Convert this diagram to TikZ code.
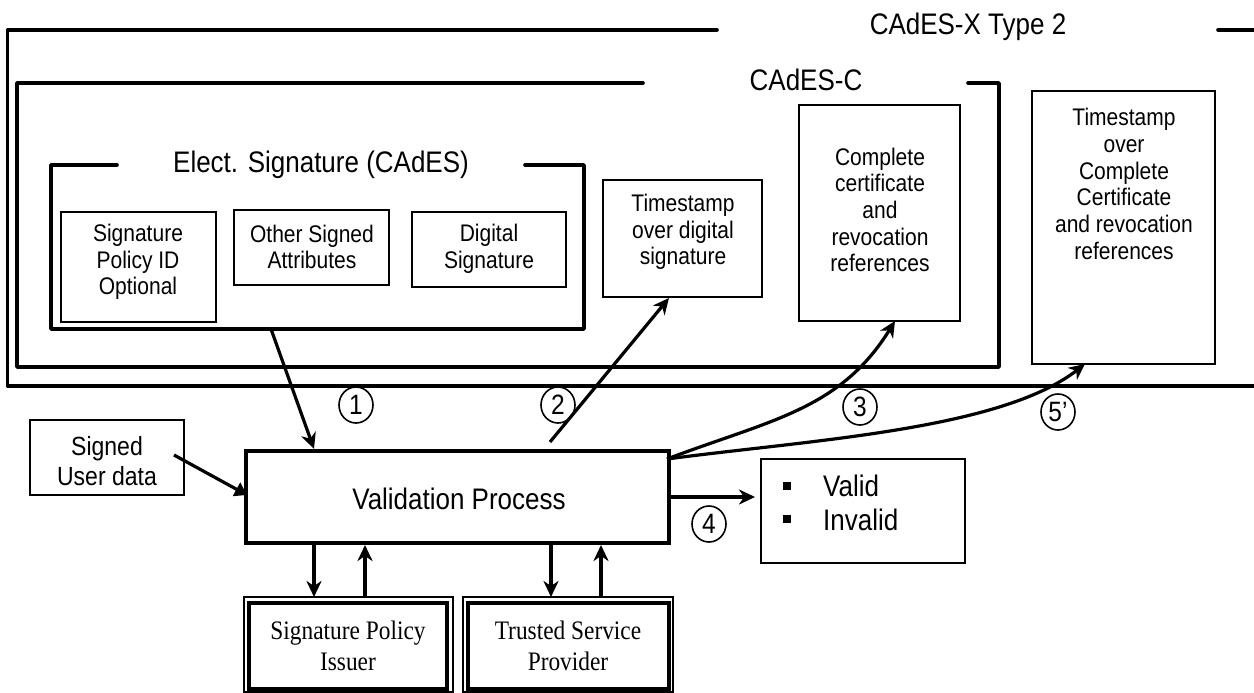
\documentclass[tikz,border=0pt]{standalone}
\usepackage{fontspec}
\setmainfont[FakeStretch=0.875]{Liberation Sans}
\newfontfamily\serifface[FakeStretch=0.875]{Liberation Serif}
\usetikzlibrary{arrows.meta,shapes.geometric}
\tikzset{
  thinbox/.style={draw=black,line width=2pt,inner sep=0pt,outer sep=0pt},
  frameline/.style={draw=black,line width=3.6pt,line cap=round,line join=round},
  mainbox/.style={draw=black,line width=3.8pt,inner sep=0pt,outer sep=0pt},
  issueroutline/.style={draw=black,line width=2.6pt,inner sep=0pt,outer sep=0pt},
  issuerinline/.style={draw=black,line width=3.2pt,inner sep=0pt,outer sep=0pt},
  txt/.style={align=center,inner sep=0pt,font=\fontsize{24}{26.7}\selectfont},
  signedtxt/.style={align=center,inner sep=0pt,font=\fontsize{26.3}{30}\selectfont},
  bigtxt/.style={inner sep=0pt,anchor=base,yshift=-1.5pt,font=\fontsize{29.7}{33}\selectfont},
  issuertxt/.style={align=center,inner sep=0pt,font=\serifface\fontsize{26.7}{31}\selectfont},
  numcircle/.style={draw=black,line width=1.6pt,ellipse,inner sep=0pt,minimum width=34pt,minimum height=36pt,font=\fontsize{28}{28}\selectfont},
  conn/.style={draw=black,line width=3.2pt,-{Stealth[length=16pt,width=15pt,inset=5pt]}},
  solidconn/.style={draw=black,line width=3.2pt,-{Triangle[length=12pt,width=15pt]}},
  bullet/.style={fill=black,inner sep=0pt,minimum width=8.5pt,minimum height=8pt}
}
\newcommand{\bx}[6][thinbox]{%
  \node[#1,minimum width=#4pt-#2pt+0pt,minimum height=#5pt-#3pt+0pt] (#6) at ({(#2+#4)/2},{(#3+#5)/2}) {};}
\begin{document}
\begin{tikzpicture}[x=1pt,y=-1pt]
\useasboundingbox (0,0) rectangle (1254,693);
% open frames
\coordinate (xa) at (717,30); \coordinate (xb) at (1218,30);
\draw[frameline] (xa) -- (7.5,30) -- (7.5,386) -- (1270,386);
\draw[frameline] (xb) -- (1270,30);
\coordinate (ca) at (643,83); \coordinate (cb) at (968,83);
\draw[frameline] (ca) -- (17,83) -- (17,367) -- (999,367) -- (999,83) -- (cb);
\coordinate (ea) at (117,165); \coordinate (eb) at (525,165);
\draw[frameline] (ea) -- (51,165) -- (51,329) -- (584,329) -- (584,165) -- (eb);
\node[bigtxt] (xlabel) at (968,33) {CAdES-X Type 2};
\node[bigtxt] (clabel) at (806,89) {CAdES-C};
\node[bigtxt] (elabel) at (321,171) {Elect. Signature (CAdES)};
% boxes
\bx{61}{212}{216}{322}{spid}
\node[txt] (spidt) at (138,262) {Signature\\Policy ID\\Optional};
\bx{234}{210}{389}{285}{osa}
\node[txt] (osat) at (312,247) {Other Signed\\Attributes};
\bx{412}{212}{566}{287}{dsig}
\node[txt] (dsigt) at (489,249) {Digital\\Signature};
\bx{603}{180}{762}{297}{ts}
\node[txt] (tst) at (683,232) {Timestamp\\over digital\\signature};
\bx{799}{105}{960}{321}{ccr}
\node[txt] (ccrt) at (880,210) {Complete\\certificate\\and\\revocation\\references};
\bx{1032}{91}{1215}{364}{tsc}
\node[txt] (tsct) at (1124,184) {Timestamp\\over\\Complete\\Certificate\\and revocation\\references};
\bx{30}{420}{184}{495}{sud}
\node[signedtxt] (sudt) at (107,461) {Signed\\User data};
\bx[mainbox]{246}{451}{669}{543}{vp}
\node[bigtxt] (vpt) at (459,508) {Validation Process};
\bx{761}{459}{965}{563}{res}
\node[bullet] (b1) at (787,486) {};
\node[bullet] (b2) at (787,519) {};
\node[bigtxt,anchor=base west] (v1) at (823,495) {Valid};
\node[bigtxt,anchor=base west] (v2) at (823,529) {Invalid};
\bx[issueroutline]{244}{597}{453}{692}{spo}
\bx[issuerinline]{249}{603}{447}{689}{spi}
\node[issuertxt] (spit) at (348,646) {Signature Policy\\Issuer};
\bx[issueroutline]{463}{597}{673}{692}{tpo}
\bx[issuerinline]{468}{603}{669}{689}{tpi}
\node[issuertxt] (tpit) at (568,646) {Trusted Service\\Provider};
% numbers
\node[numcircle] (n1) at (356,405) {1};
\node[numcircle] (n2) at (558,405) {2};
\node[numcircle] (n3) at (860,407) {3};
\node[numcircle] (n4) at (709,524) {4};
\node[numcircle] (n5) at (1058,412) {5’};
% connector ends
\coordinate (a1s) at (271,329);
\coordinate (a1e) at (314,449);
\coordinate (a2s) at (550,442);
\coordinate (a2e) at (669,298);
\coordinate (a3s) at (667,459);
\coordinate (a3e) at (895,321);
\coordinate (a5e) at (1085,364);
\coordinate (sus) at (174,455);
\coordinate (sue) at (247,495);
% connectors
\draw[conn] (a1s) -- (a1e);
\draw[conn] (a2s) -- (a2e);
\draw[conn] (a3s) .. controls (770,420) and (840,410) .. (a3e);
\draw[conn] (a3s) .. controls (810,440) and (1000,430) .. (a5e);
\draw[conn] (vp.east |- 0,497) -- (755,497);
\draw[solidconn] (sus) -- (sue);
\draw[conn] (314,543) -- (314,597);
\draw[conn] (365,597) -- (365,545);
\draw[conn] (551,543) -- (551,597);
\draw[conn] (601,597) -- (601,545);
\end{tikzpicture}
\end{document}
